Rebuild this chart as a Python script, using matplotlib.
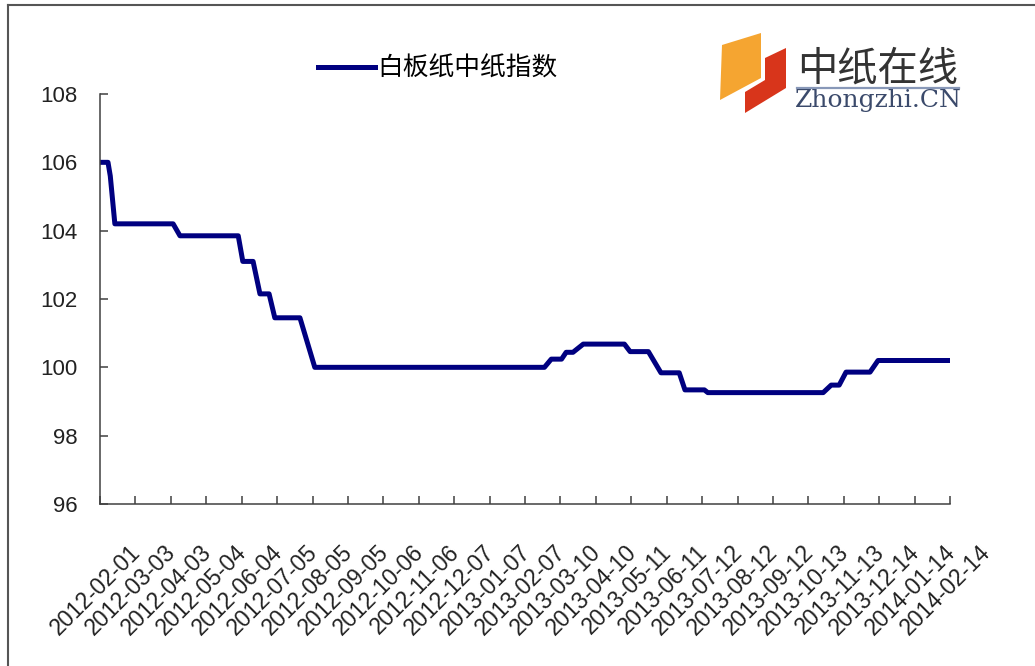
import numpy as np
import matplotlib.pyplot as plt
import matplotlib.transforms as mtransforms
from matplotlib.patches import Polygon
from matplotlib.lines import Line2D

plt.rcParams['font.family'] = ['Liberation Sans', 'Noto Sans CJK SC']

# tick labels on the x axis (one every 31 days)
tick_dates = ["2012-02-01", "2012-03-03", "2012-04-03", "2012-05-04", "2012-06-04",
              "2012-07-05", "2012-08-05", "2012-09-05", "2012-10-06", "2012-11-06",
              "2012-12-07", "2013-01-07", "2013-02-07", "2013-03-10", "2013-04-10",
              "2013-05-11", "2013-06-11", "2013-07-12", "2013-08-12", "2013-09-12",
              "2013-10-13", "2013-11-13", "2013-12-14", "2014-01-14", "2014-02-14"]

# index: dates where the level changes
idx_dates = ["2012-02-01", "2012-02-08", "2012-02-10", "2012-02-14", "2012-04-05",
             "2012-04-11", "2012-06-01", "2012-06-05", "2012-06-14", "2012-06-20",
             "2012-06-28", "2012-07-03", "2012-07-25", "2012-08-07", "2013-02-24",
             "2013-03-02", "2013-03-11", "2013-03-15", "2013-03-21", "2013-03-30",
             "2013-05-05", "2013-05-10", "2013-05-26", "2013-06-06", "2013-06-22",
             "2013-06-27", "2013-07-14", "2013-07-17", "2013-10-26", "2013-11-02",
             "2013-11-09", "2013-11-15", "2013-12-06", "2013-12-13", "2014-02-14"]
idx_values = [106.0, 106.0, 105.6, 104.2, 104.2,
              103.85, 103.85, 103.1, 103.1, 102.15,
              102.15, 101.45, 101.45, 100.0, 100.0,
              100.24, 100.24, 100.44, 100.44, 100.68,
              100.68, 100.46, 100.46, 99.84, 99.84,
              99.34, 99.34, 99.26, 99.26, 99.48,
              99.48, 99.86, 99.86, 100.2, 100.2]

series_name = "白板纸中纸指数"

W, H = 1035, 666
fig = plt.figure(figsize=(W / 100, H / 100), dpi=100)


def px(x, y):
    # pixel position (top-left origin) -> figure fraction
    return (x / W, 1 - y / H)


ax = fig.add_axes([100 / W, 1 - 504 / H, 850 / W, 410 / H])

x = np.array(idx_dates, dtype="datetime64[D]")
ticks = np.array(tick_dates, dtype="datetime64[D]")

ax.plot(x, idx_values, color="#000080", lw=3.6, label=series_name)

ax.set_xlim(ticks[0], ticks[-1])
ax.set_ylim(96, 108)
ax.set_yticks(np.arange(96, 109, 2))
ax.set_xticks(ticks)
ax.set_xticklabels(tick_dates, rotation=45, ha="right", va="center",
                   rotation_mode="anchor", fontsize=16.5)
ax.tick_params(axis="y", labelsize=16, direction="in", length=5.5, width=1.1,
               pad=16, colors="#404040", labelcolor="#222222")
ax.tick_params(axis="x", direction="in", length=5.5, width=1.1, pad=32,
               colors="#404040", labelcolor="#222222")

# shift date labels to the right like the original
offset = mtransforms.ScaledTranslation(0.37, 0, fig.dpi_scale_trans)
for lab in ax.get_xticklabels():
    lab.set_transform(lab.get_transform() + offset)

for side in ["top", "right"]:
    ax.spines[side].set_visible(False)
for side in ["left", "bottom"]:
    ax.spines[side].set_color("#404040")
    ax.spines[side].set_linewidth(1.1)

# legend
ax.legend(loc="center left", bbox_to_anchor=px(318, 69), bbox_transform=fig.transFigure,
          frameon=False, borderpad=0, borderaxespad=0, handlelength=2.2,
          handletextpad=0.12, prop={"family": ["Noto Sans CJK SC"], "size": 18.5})

# outer frame (top and left edge only)
fig.add_artist(Line2D([px(8, 0)[0], px(8, 0)[0]], [0, px(0, 5)[1]],
                      transform=fig.transFigure, color="#555555", lw=1.5))
fig.add_artist(Line2D([px(8, 0)[0], 1], [px(0, 5)[1], px(0, 5)[1]],
                      transform=fig.transFigure, color="#555555", lw=1.5))

# logo
orange = [px(722, 45), px(761, 33), px(761, 78), px(720, 100)]
red = [px(765, 58), px(786, 48), px(786, 88), px(745, 113), px(745, 92), px(765, 80)]
fig.add_artist(Polygon(orange, closed=True, transform=fig.transFigure,
                       facecolor="#F5A531", edgecolor="none"))
fig.add_artist(Polygon(red, closed=True, transform=fig.transFigure,
                       facecolor="#D8351B", edgecolor="none"))
fig.text(*px(878, 69), "中纸在线", ha="center", va="center", fontsize=29,
         color="#333333", family=["Noto Sans CJK SC"])
fig.add_artist(Line2D([px(797, 0)[0], px(959, 0)[0]], [px(0, 88)[1]] * 2,
                      transform=fig.transFigure, color="#8898B8", lw=1.6))
fig.text(*px(878, 100), "Zhongzhi.CN", ha="center", va="center", fontsize=18,
         color="#3B4A6B", family=["DejaVu Serif"])

fig.savefig("out.png", dpi=100)
